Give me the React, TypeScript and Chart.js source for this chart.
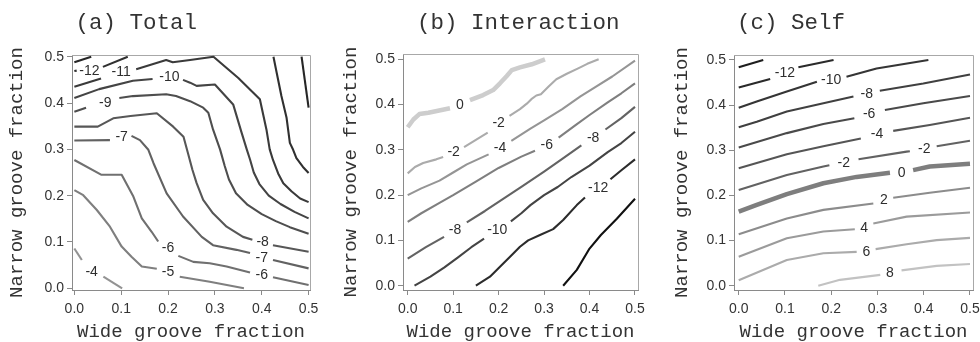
import React, { useEffect, useRef } from "react";
import { Chart, registerables } from "chart.js";
Chart.register(...registerables);

type P = [number, number] | null;
type Lab = { t: string; x: number; y: number };

// ---------- common ticks ----------
const tickValues = [0, 0.1, 0.2, 0.3, 0.4, 0.5];
const xTitle = "Wide groove fraction";
const yTitle = "Narrow groove fraction";

// ---------- (a) Total ----------
const totalLevels = [-13, -12, -11, -10, -9, -8, -7, -6, -5, -4];
const totalM13Left: P[] = [[0, 0.488], [0.036, 0.5]];
const totalM13Right: P[] = [[0.485, 0.5], [0.5, 0.39]];
const totalM12Left: P[] = [[0, 0.469], [0.005, 0.47], null, [0.061, 0.478], [0.114, 0.5]];
const totalM12Right: P[] = [[0.425, 0.5], [0.432, 0.465], [0.442, 0.415], [0.453, 0.368], [0.46, 0.314], [0.467, 0.299], [0.474, 0.281], [0.488, 0.262], [0.5, 0.249]];
const totalM11: P[] = [[0, 0.435], [0.057, 0.453], null, [0.132, 0.473], [0.196, 0.493], [0.21, 0.488], [0.247, 0.493], [0.297, 0.5], [0.35, 0.454], [0.396, 0.408], [0.41, 0.343], [0.417, 0.3], [0.424, 0.277], [0.435, 0.248], [0.446, 0.227], [0.464, 0.209], [0.482, 0.194], [0.5, 0.186]];
const totalM10: P[] = [[0, 0.411], [0.053, 0.43], [0.125, 0.448], [0.167, 0.452], null, [0.232, 0.45], [0.247, 0.444], [0.261, 0.437], [0.3, 0.44], [0.339, 0.397], [0.357, 0.336], [0.368, 0.3], [0.375, 0.278], [0.383, 0.25], [0.395, 0.225], [0.415, 0.2], [0.44, 0.182], [0.47, 0.165], [0.5, 0.151]];
const totalM9: P[] = [[0, 0.381], [0.025, 0.39], null, [0.096, 0.411], [0.125, 0.415], [0.196, 0.419], [0.217, 0.415], [0.247, 0.404], [0.275, 0.39], [0.286, 0.379], [0.296, 0.343], [0.311, 0.3], [0.321, 0.264], [0.33, 0.235], [0.345, 0.205], [0.37, 0.18], [0.4, 0.16], [0.43, 0.145], [0.46, 0.132], [0.5, 0.118]];
const totalM8: P[] = [[0, 0.349], [0.05, 0.349], [0.083, 0.367], [0.12, 0.372], [0.176, 0.378], [0.211, 0.349], [0.233, 0.327], [0.243, 0.29], [0.252, 0.256], [0.261, 0.227], [0.275, 0.191], [0.296, 0.162], [0.325, 0.133], [0.36, 0.111], [0.38, 0.105], null, [0.424, 0.093], [0.5, 0.079]];
const totalM7: P[] = [[0, 0.319], [0.076, 0.32], null, [0.122, 0.329], [0.14, 0.32], [0.158, 0.299], [0.169, 0.27], [0.197, 0.205], [0.232, 0.155], [0.272, 0.111], [0.296, 0.093], [0.346, 0.083], [0.375, 0.076], null, [0.424, 0.061], [0.5, 0.043]];
const totalM6: P[] = [[0, 0.277], [0.058, 0.245], [0.101, 0.245], [0.126, 0.198], [0.144, 0.151], [0.165, 0.122], [0.179, 0.101], null, [0.222, 0.07], [0.254, 0.057], [0.289, 0.054], [0.325, 0.047], [0.375, 0.034], null, [0.424, 0.024], [0.5, 0.007]];
const totalM5: P[] = [[0, 0.212], [0.019, 0.201], [0.048, 0.169], [0.076, 0.133], [0.101, 0.09], [0.122, 0.068], [0.144, 0.047], [0.176, 0.042], null, [0.225, 0.025], [0.289, 0.014], [0.362, 0]];
const totalM4: P[] = [[0, 0.086], [0.016, 0.061], null, [0.062, 0.025], [0.102, 0]];
const totalLabels: Lab[] = [
  { t: "-12", x: 0.032, y: 0.469 }, { t: "-11", x: 0.1, y: 0.467 }, { t: "-10", x: 0.203, y: 0.455 },
  { t: "-9", x: 0.066, y: 0.4 }, { t: "-7", x: 0.101, y: 0.327 }, { t: "-8", x: 0.402, y: 0.1 },
  { t: "-7", x: 0.4, y: 0.065 }, { t: "-6", x: 0.2, y: 0.086 }, { t: "-6", x: 0.4, y: 0.029 },
  { t: "-5", x: 0.2, y: 0.034 }, { t: "-4", x: 0.037, y: 0.034 },
];

// ---------- (b) Interaction ----------
const interLevels = [0, -2, -4, -6, -8, -10, -12, -14];
const inter0: P[] = [[0, 0.35], [0.0125, 0.367], [0.0257, 0.379], [0.0455, 0.382], [0.093, 0.392], null, [0.137, 0.41], [0.166, 0.421], [0.188, 0.432], [0.203, 0.447], [0.218, 0.463], [0.229, 0.476], [0.247, 0.482], [0.273, 0.489], [0.302, 0.5]];
const interM2: P[] = [[0, 0.248], [0.016, 0.262], [0.034, 0.271], [0.063, 0.279], [0.078, 0.284], null, [0.124, 0.306], [0.15, 0.322], [0.176, 0.338], null, [0.224, 0.375], [0.247, 0.39], [0.262, 0.402], [0.272, 0.412], [0.283, 0.42], [0.293, 0.423], [0.31, 0.44], [0.327, 0.456], [0.35, 0.468], [0.375, 0.48], [0.395, 0.49], [0.42, 0.5]];
const interM4: P[] = [[0, 0.2], [0.03, 0.215], [0.07, 0.232], [0.1, 0.25], [0.13, 0.268], [0.178, 0.29], null, [0.228, 0.32], [0.27, 0.347], [0.3, 0.365], [0.34, 0.39], [0.38, 0.418], [0.41, 0.437], [0.45, 0.462], [0.5, 0.497]];
const interM6: P[] = [[0, 0.141], [0.03, 0.16], [0.07, 0.183], [0.1, 0.2], [0.15, 0.23], [0.2, 0.26], [0.25, 0.285], [0.28, 0.298], null, [0.332, 0.327], [0.37, 0.355], [0.4, 0.377], [0.44, 0.405], [0.47, 0.425], [0.5, 0.447]];
const interM8: P[] = [[0, 0.06], [0.04, 0.085], [0.08, 0.108], null, [0.13, 0.14], [0.17, 0.165], [0.2, 0.185], [0.25, 0.218], [0.3, 0.252], [0.34, 0.28], [0.382, 0.31], null, [0.435, 0.345], [0.47, 0.37], [0.5, 0.395]];
const interM10: P[] = [[0.015, 0], [0.05, 0.02], [0.08, 0.04], [0.11, 0.062], [0.14, 0.085], [0.168, 0.104], null, [0.227, 0.142], [0.25, 0.16], [0.27, 0.178], [0.3, 0.2], [0.33, 0.218], [0.36, 0.24], [0.4, 0.265], [0.44, 0.295], [0.47, 0.315], [0.5, 0.34]];
const interM12: P[] = [[0.15, 0], [0.181, 0.02], [0.203, 0.042], [0.229, 0.068], [0.247, 0.086], [0.265, 0.1], [0.291, 0.112], [0.32, 0.125], [0.342, 0.145], [0.372, 0.178], [0.39, 0.195], null, [0.446, 0.235], [0.47, 0.255], [0.5, 0.279]];
const interM14: P[] = [[0.342, 0], [0.372, 0.035], [0.4, 0.082], [0.425, 0.112], [0.46, 0.148], [0.5, 0.192]];
const interLabels: Lab[] = [
  { t: "0", x: 0.115, y: 0.399 }, { t: "-2", x: 0.101, y: 0.295 }, { t: "-2", x: 0.2, y: 0.36 },
  { t: "-4", x: 0.203, y: 0.303 }, { t: "-6", x: 0.306, y: 0.311 }, { t: "-8", x: 0.104, y: 0.122 },
  { t: "-8", x: 0.408, y: 0.325 }, { t: "-10", x: 0.197, y: 0.123 }, { t: "-12", x: 0.419, y: 0.215 },
];

// ---------- (c) Self ----------
const selfLevels = [-14, -12, -10, -8, -6, -4, -2, 0, 2, 4, 6, 8];
const selfM14: P[] = [[0, 0.484], [0.053, 0.5]];
const selfM12: P[] = [[0, 0.439], [0.068, 0.458], null, [0.129, 0.484], [0.205, 0.5]];
const selfM10: P[] = [[0, 0.394], [0.039, 0.408], [0.104, 0.43], [0.169, 0.452], null, [0.233, 0.463], [0.298, 0.481], [0.41, 0.5]];
const selfM8: P[] = [[0, 0.351], [0.039, 0.363], [0.104, 0.386], [0.183, 0.404], [0.248, 0.419], null, [0.305, 0.432], [0.399, 0.448], [0.5, 0.468]];
const selfM6: P[] = [[0, 0.306], [0.104, 0.338], [0.183, 0.358], [0.25, 0.371], null, [0.316, 0.389], [0.399, 0.404], [0.5, 0.42]];
const selfM4: P[] = [[0, 0.26], [0.104, 0.291], [0.183, 0.309], [0.264, 0.326], null, [0.334, 0.343], [0.413, 0.356], [0.5, 0.372]];
const selfM2: P[] = [[0, 0.212], [0.104, 0.245], [0.183, 0.264], [0.196, 0.267], null, [0.259, 0.28], [0.363, 0.297], [0.37, 0.298], null, [0.428, 0.309], [0.5, 0.321]];
const self0: P[] = [[0, 0.164], [0.039, 0.179], [0.104, 0.203], [0.183, 0.227], [0.255, 0.241], [0.327, 0.25], null, [0.377, 0.256], [0.413, 0.264], [0.5, 0.27]];
const selfP2: P[] = [[0, 0.114], [0.104, 0.149], [0.183, 0.168], [0.291, 0.182], null, [0.334, 0.195], [0.413, 0.206], [0.5, 0.217]];
const selfP4: P[] = [[0, 0.064], [0.104, 0.105], [0.183, 0.12], [0.251, 0.125], null, [0.291, 0.138], [0.363, 0.153], [0.5, 0.162]];
const selfP6: P[] = [[0, 0.012], [0.104, 0.057], [0.183, 0.072], [0.255, 0.075], null, [0.296, 0.081], [0.363, 0.092], [0.428, 0.101], [0.5, 0.106]];
const selfP8: P[] = [[0.172, 0], [0.219, 0.013], [0.306, 0.024], null, [0.352, 0.034], [0.428, 0.044], [0.5, 0.048]];
const selfLabels: Lab[] = [
  { t: "-12", x: 0.1, y: 0.471 }, { t: "-10", x: 0.2, y: 0.456 }, { t: "-8", x: 0.277, y: 0.425 },
  { t: "-6", x: 0.282, y: 0.381 }, { t: "-4", x: 0.299, y: 0.335 }, { t: "-2", x: 0.227, y: 0.271 },
  { t: "-2", x: 0.401, y: 0.303 }, { t: "0", x: 0.352, y: 0.249 }, { t: "2", x: 0.314, y: 0.189 },
  { t: "4", x: 0.271, y: 0.128 }, { t: "6", x: 0.276, y: 0.075 }, { t: "8", x: 0.327, y: 0.028 },
];

// ---------- styles ----------
const totalColors: Record<number, string> = { [-13]: "#262626", [-12]: "#303030", [-11]: "#3a3a3a", [-10]: "#444444", [-9]: "#4e4e4e", [-8]: "#575757", [-7]: "#626262", [-6]: "#707070", [-5]: "#7f7f7f", [-4]: "#939393" };
const interColors: Record<number, string> = { [0]: "#cdcdcd", [-2]: "#ababab", [-4]: "#959595", [-6]: "#7f7f7f", [-8]: "#636363", [-10]: "#444444", [-12]: "#2c2c2c", [-14]: "#111111" };
const selfColors: Record<number, string> = { [-14]: "#1e1e1e", [-12]: "#2a2a2a", [-10]: "#353535", [-8]: "#404040", [-6]: "#4a4a4a", [-4]: "#555555", [-2]: "#626262", [0]: "#7e7e7e", [2]: "#8c8c8c", [4]: "#9b9b9b", [6]: "#ababab", [8]: "#c2c2c2" };

type Contour = { level: number; pts: P[] };
const totalContours: Contour[] = [
  { level: totalLevels[0], pts: totalM13Left }, { level: totalLevels[0], pts: totalM13Right },
  { level: totalLevels[1], pts: totalM12Left }, { level: totalLevels[1], pts: totalM12Right },
  { level: totalLevels[2], pts: totalM11 }, { level: totalLevels[3], pts: totalM10 },
  { level: totalLevels[4], pts: totalM9 }, { level: totalLevels[5], pts: totalM8 },
  { level: totalLevels[6], pts: totalM7 }, { level: totalLevels[7], pts: totalM6 },
  { level: totalLevels[8], pts: totalM5 }, { level: totalLevels[9], pts: totalM4 },
];
const interContours: Contour[] = [inter0, interM2, interM4, interM6, interM8, interM10, interM12, interM14].map((pts, i) => ({ level: interLevels[i], pts }));
const selfContours: Contour[] = [selfM14, selfM12, selfM10, selfM8, selfM6, selfM4, selfM2, self0, selfP2, selfP4, selfP6, selfP8].map((pts, i) => ({ level: selfLevels[i], pts }));

const MONO = '"Liberation Mono", "Courier New", monospace';
const SANS = '"Liberation Sans", Arial, sans-serif';

type PanelCfg = {
  title: string; contours: Contour[]; labels: Lab[]; colors: Record<number, string>; thickZero: boolean;
  canvasLeft: number; canvasWidth: number; frame: { l: number; r: number; t: number; b: number };
  xRange: [number, number]; yRange: [number, number]; titleX: number; yTitlePad: number;
};

const panels: PanelCfg[] = [
  { title: "(a) Total", contours: totalContours, labels: totalLabels, colors: totalColors, thickZero: false,
    canvasLeft: 0, canvasWidth: 330, frame: { l: 72, r: 310, t: 55, b: 290 }, xRange: [-0.005, 0.503], yRange: [-0.0037, 0.5037], titleX: 75.5, yTitlePad: 7 },
  { title: "(b) Interaction", contours: interContours, labels: interLabels, colors: interColors, thickZero: true,
    canvasLeft: 330, canvasWidth: 330, frame: { l: 403, r: 638, t: 54, b: 290 }, xRange: [-0.0103, 0.5066], yRange: [-0.0095, 0.5117], titleX: 417, yTitlePad: 10.5 },
  { title: "(c) Self", contours: selfContours, labels: selfLabels, colors: selfColors, thickZero: true,
    canvasLeft: 660, canvasWidth: 340, frame: { l: 734, r: 973, t: 55, b: 290 }, xRange: [-0.0102, 0.5065], yRange: [-0.0095, 0.511], titleX: 737, yTitlePad: 11.5 },
];

const H = 342;

function buildDatasets(cfg: PanelCfg) {
  const ds: any[] = [];
  cfg.contours.forEach((c) => {
    let seg: { x: number; y: number }[] = [];
    const flush = () => {
      if (seg.length > 1) {
        ds.push({
          data: seg, showLine: true, pointRadius: 0, borderColor: cfg.colors[c.level],
          borderWidth: cfg.thickZero && c.level === 0 ? 4.5 : 2.1, tension: 0,
          borderJoinStyle: "round", borderCapStyle: "butt", fill: false,
        });
      }
      seg = [];
    };
    c.pts.forEach((p) => { if (p === null) flush(); else seg.push({ x: p[0], y: p[1] }); });
    flush();
  });
  return ds;
}

function Panel({ cfg }: { cfg: PanelCfg }) {
  const ref = useRef<HTMLCanvasElement>(null);
  useEffect(() => {
    const canvas = ref.current!;
    const f = cfg.frame;
    const overlay = {
      id: "overlay",
      beforeDatasetsDraw(chart: any) {
        const { ctx, chartArea: a } = chart;
        ctx.save();
        ctx.strokeStyle = "#a8a8a8";
        ctx.lineWidth = 1;
        ctx.beginPath();
        ctx.moveTo(a.left, Math.round(a.top) + 0.5);
        ctx.lineTo(Math.round(a.right) + 0.5, Math.round(a.top) + 0.5);
        ctx.lineTo(Math.round(a.right) + 0.5, a.bottom);
        ctx.stroke();
        ctx.restore();
      },
      afterDatasetsDraw(chart: any) {
        const { ctx } = chart;
        const xs = chart.scales.x, ys = chart.scales.y;
        ctx.save();
        ctx.font = `14px ${SANS}`;
        ctx.fillStyle = "#2e2e2e";
        ctx.textAlign = "center";
        ctx.textBaseline = "middle";
        cfg.labels.forEach((l) => ctx.fillText(l.t, xs.getPixelForValue(l.x), ys.getPixelForValue(l.y)));
        ctx.font = `22.5px ${MONO}`;
        ctx.fillStyle = "#333";
        ctx.textAlign = "left";
        ctx.textBaseline = "alphabetic";
        ctx.fillText(cfg.title, cfg.titleX - cfg.canvasLeft, 28.5);
        ctx.restore();
      },
    };
    const chart = new Chart(canvas, {
      type: "scatter",
      data: { datasets: buildDatasets(cfg) },
      options: {
        animation: false, responsive: false, maintainAspectRatio: false, events: [],
        layout: { padding: { left: 0, top: f.t, right: cfg.canvasWidth - (f.r - cfg.canvasLeft), bottom: 0 } },
        plugins: { legend: { display: false }, tooltip: { enabled: false }, title: { display: false } },
        scales: {
          x: {
            type: "linear", min: cfg.xRange[0], max: cfg.xRange[1],
            afterFit: (s: any) => { s.height = H - f.b; },
            afterBuildTicks: (s: any) => { s.ticks = tickValues.map((v) => ({ value: v })); },
            ticks: { callback: (v: any) => Number(v).toFixed(1), font: { family: SANS, size: 14 }, color: "#333", padding: 6, maxRotation: 0, autoSkip: false },
            grid: { display: true, drawOnChartArea: false, drawTicks: true, tickLength: 5, color: "#8a8a8a" },
            border: { display: true, color: "#8a8a8a" },
            title: { display: true, text: xTitle, font: { family: MONO, size: 19, lineHeight: 1.1 }, color: "#333", padding: { top: 0, bottom: 0 } },
          },
          y: {
            type: "linear", min: cfg.yRange[0], max: cfg.yRange[1],
            afterFit: (s: any) => { s.width = f.l - cfg.canvasLeft; },
            afterBuildTicks: (s: any) => { s.ticks = tickValues.map((v) => ({ value: v })); },
            ticks: { callback: (v: any) => Number(v).toFixed(1), font: { family: SANS, size: 14 }, color: "#333", padding: 3, autoSkip: false },
            grid: { display: true, drawOnChartArea: false, drawTicks: true, tickLength: 5, color: "#8a8a8a" },
            border: { display: true, color: "#8a8a8a" },
            title: { display: true, text: yTitle, font: { family: MONO, size: 19, lineHeight: 1.1 }, color: "#333", padding: { top: cfg.yTitlePad, bottom: 0 } },
          },
        },
      },
      plugins: [overlay],
    } as any);
    return () => chart.destroy();
  }, [cfg]);
  return (
    <canvas ref={ref} width={cfg.canvasWidth} height={H}
      style={{ position: "absolute", left: cfg.canvasLeft, top: 0, width: cfg.canvasWidth, height: H, display: "block" }} />
  );
}

export default function App() {
  return (
    <div style={{ position: "absolute", left: 0, top: 0, width: 980, height: H, overflow: "hidden", background: "#fff" }}>
      {panels.map((p) => <Panel key={p.title} cfg={p} />)}
    </div>
  );
}
